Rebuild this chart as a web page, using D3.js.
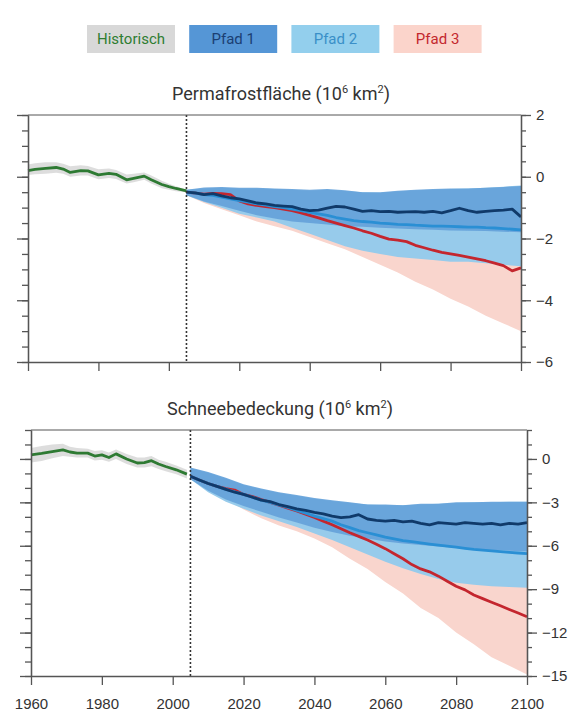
<!DOCTYPE html>
<html>
<head>
<meta charset="utf-8">
<script src="https://cdn.jsdelivr.net/npm/d3@7"></script>
<style>
  body { margin: 0; background: #fff; }
  svg { display: block; font-family: Roboto, "Open Sans", sans-serif; }
</style>
</head>
<body>
<div id="chart"></div>
<script>
// Legend entries
const legendNames = ["Historisch", "Pfad 1", "Pfad 2", "Pfad 3"];

// Historic series, Permafrost (top)
const histYearsTop = [1960, 1962, 1965, 1968, 1970, 1972, 1975, 1977, 1980, 1983, 1985, 1988, 1990, 1993, 1995, 1998, 2000, 2002, 2005];
const histTop   = [0.2, 0.24, 0.27, 0.3, 0.25, 0.14, 0.2, 0.19, 0.06, 0.11, 0.08, -0.1, -0.05, 0.02, -0.1, -0.25, -0.32, -0.38, -0.46];
const histTopHi = [0.4, 0.44, 0.47, 0.47, 0.42, 0.34, 0.37, 0.35, 0.24, 0.27, 0.22, 0.07, 0.1, 0.14, 0.04, -0.13, -0.23, -0.31, -0.42];
const histTopLo = [0.06, 0.08, 0.1, 0.13, 0.1, 0.0, 0.04, 0.04, -0.08, -0.04, -0.07, -0.22, -0.18, -0.1, -0.22, -0.37, -0.42, -0.47, -0.5];

// Historic series, snow cover (bottom)
const histYearsBot = [1960, 1963, 1966, 1969, 1971, 1973, 1976, 1978, 1980, 1982, 1984, 1987, 1990, 1992, 1994, 1996, 1998, 2001, 2004];
const histBot   = [0.28, 0.38, 0.5, 0.62, 0.48, 0.4, 0.4, 0.2, 0.28, 0.1, 0.35, 0.0, -0.28, -0.25, -0.12, -0.35, -0.52, -0.75, -1.05];
const histBotHi = [0.75, 0.9, 1.0, 1.05, 0.85, 0.75, 0.7, 0.55, 0.6, 0.45, 0.65, 0.35, 0.1, 0.1, 0.2, -0.05, -0.2, -0.45, -0.75];
const histBotLo = [-0.25, -0.15, 0.05, 0.2, 0.15, 0.1, 0.1, -0.1, -0.05, -0.2, 0.0, -0.35, -0.6, -0.6, -0.5, -0.7, -0.85, -1.05, -1.35];

// Projection years
const bandYears = [2005, 2010, 2015, 2020, 2025, 2030, 2035, 2040, 2045, 2050, 2055, 2060, 2065, 2070, 2075, 2080, 2085, 2090, 2095, 2100];
const lineYears = [2005, 2007.5, 2010, 2012.5, 2015, 2017.5, 2020, 2022.5, 2025, 2027.5, 2030, 2032.5, 2035, 2037.5, 2040, 2042.5, 2045, 2047.5, 2050, 2052.5,
                   2055, 2057.5, 2060, 2062.5, 2065, 2067.5, 2070, 2072.5, 2075, 2077.5, 2080, 2082.5, 2085, 2087.5, 2090, 2092.5, 2095, 2097.5, 2100];

// Permafrost projections
const p1Top = [-0.5, -0.52, -0.58, -0.55, -0.62, -0.68, -0.72, -0.78, -0.85, -0.88, -0.93, -0.95, -0.97, -1.05, -1.1, -1.08, -1.02, -0.96, -0.98, -1.05,
               -1.12, -1.1, -1.13, -1.12, -1.15, -1.14, -1.13, -1.15, -1.12, -1.17, -1.1, -1.02, -1.1, -1.15, -1.12, -1.1, -1.08, -1.05, -1.3];
const p2Top = [-0.5, -0.53, -0.58, -0.6, -0.66, -0.72, -0.77, -0.82, -0.88, -0.92, -0.97, -1.0, -1.05, -1.1, -1.15, -1.2, -1.25, -1.32, -1.37, -1.42,
               -1.45, -1.47, -1.5, -1.52, -1.54, -1.55, -1.57, -1.58, -1.6, -1.6, -1.61, -1.62, -1.63, -1.63, -1.65, -1.66, -1.68, -1.7, -1.72];
const p3Top = [-0.5, -0.53, -0.56, -0.54, -0.55, -0.58, -0.78, -0.88, -0.93, -0.97, -1.0, -1.05, -1.1, -1.17, -1.25, -1.33, -1.42, -1.5, -1.58, -1.66,
               -1.75, -1.83, -1.93, -2.02, -2.05, -2.1, -2.22, -2.3, -2.38, -2.45, -2.5, -2.55, -2.6, -2.66, -2.72, -2.8, -2.88, -3.05, -2.95];
const p1TopHi = [-0.42, -0.35, -0.33, -0.36, -0.36, -0.38, -0.4, -0.42, -0.4, -0.44, -0.5, -0.5, -0.45, -0.42, -0.4, -0.38, -0.38, -0.36, -0.33, -0.3];
const p1TopLo = [-0.6, -0.8, -0.95, -1.1, -1.25, -1.35, -1.45, -1.5, -1.55, -1.6, -1.62, -1.65, -1.68, -1.7, -1.72, -1.74, -1.75, -1.76, -1.78, -1.8];
const p2TopHi = [-0.42, -0.38, -0.36, -0.38, -0.38, -0.4, -0.42, -0.45, -0.42, -0.46, -0.5, -0.52, -0.48, -0.44, -0.42, -0.4, -0.38, -0.36, -0.32, -0.28];
const p2TopLo = [-0.6, -0.82, -1.0, -1.2, -1.32, -1.45, -1.65, -1.85, -2.05, -2.25, -2.4, -2.5, -2.6, -2.65, -2.7, -2.75, -2.75, -2.8, -2.85, -2.9];
const p3TopHi = [-0.45, -0.45, -0.45, -0.5, -0.55, -0.6, -0.65, -0.75, -0.85, -0.95, -1.05, -1.15, -1.25, -1.35, -1.45, -1.55, -1.65, -1.75, -1.85, -1.95];
const p3TopLo = [-0.6, -0.85, -1.05, -1.25, -1.45, -1.6, -1.75, -1.95, -2.15, -2.35, -2.6, -2.85, -3.1, -3.4, -3.65, -3.95, -4.2, -4.5, -4.75, -5.0];

// Snow cover projections
const p1Bot = [-1.2, -1.45, -1.7, -1.9, -2.1, -2.3, -2.45, -2.65, -2.85, -2.95, -3.15, -3.3, -3.45, -3.55, -3.7, -3.8, -3.95, -4.05, -4.0, -3.85,
               -4.15, -4.25, -4.3, -4.25, -4.35, -4.3, -4.45, -4.55, -4.4, -4.45, -4.5, -4.4, -4.45, -4.5, -4.45, -4.55, -4.45, -4.5, -4.4];
const p2Bot = [-1.2, -1.45, -1.7, -1.9, -2.1, -2.28, -2.45, -2.65, -2.85, -3.0, -3.18, -3.35, -3.55, -3.75, -3.95, -4.12, -4.3, -4.55, -4.75, -4.95,
               -5.1, -5.25, -5.4, -5.52, -5.65, -5.72, -5.8, -5.88, -5.95, -6.02, -6.1, -6.18, -6.25, -6.3, -6.35, -6.4, -6.45, -6.5, -6.55];
const p3Bot = [-1.2, -1.45, -1.7, -1.9, -2.05, -2.15, -2.45, -2.6, -2.8, -3.0, -3.2, -3.4, -3.6, -3.82, -4.05, -4.3, -4.55, -4.82, -5.1, -5.35,
               -5.6, -5.9, -6.2, -6.55, -6.9, -7.3, -7.6, -7.8, -8.1, -8.45, -8.8, -9.05, -9.4, -9.65, -9.9, -10.15, -10.4, -10.65, -10.9];
const p1BotHi = [-0.6, -0.9, -1.3, -1.75, -2.05, -2.3, -2.5, -2.7, -2.85, -3.0, -3.15, -3.15, -3.2, -3.1, -3.1, -3.0, -3.0, -2.95, -2.95, -2.95];
const p1BotLo = [-1.4, -2.2, -2.8, -3.25, -3.65, -4.05, -4.4, -4.75, -5.05, -5.3, -5.5, -5.7, -5.85, -5.95, -6.05, -6.15, -6.25, -6.3, -6.35, -6.4];
const p2BotHi = [-0.65, -0.95, -1.35, -1.8, -2.1, -2.35, -2.55, -2.75, -2.9, -3.05, -3.15, -3.2, -3.2, -3.15, -3.1, -3.05, -3.0, -3.0, -2.95, -2.95];
const p2BotLo = [-1.4, -2.3, -2.95, -3.45, -3.9, -4.3, -4.7, -5.15, -5.6, -6.1, -6.6, -7.1, -7.55, -7.95, -8.3, -8.55, -8.7, -8.8, -8.85, -8.9];
const p3BotHi = [-0.7, -1.0, -1.4, -1.85, -2.15, -2.45, -2.75, -3.05, -3.35, -3.65, -4.0, -4.35, -4.7, -5.1, -5.5, -5.9, -6.3, -6.7, -7.1, -7.5];
const p3BotLo = [-1.3, -2.0, -2.8, -3.5, -4.1, -4.6, -5.0, -5.5, -6.1, -6.9, -7.6, -8.5, -9.3, -10.3, -11.0, -12.0, -12.8, -13.7, -14.3, -14.9];

// Axis ticks
const yearTicks = [1960, 1980, 2000, 2020, 2040, 2060, 2080, 2100];
const topTicks = [2, 0, -2, -4, -6];
const botTicks = [0, -3, -6, -9, -12, -15];

// Colours
const legendFill = ["#d8d8d8", "#5596d6", "#93cfed", "#fbd4cb"];
const legendText = ["#2e7d32", "#1b3f73", "#3a8fc8", "#c3282e"];
const bandColor = {hist: "#d4d4d4", p1: "#64a1d9", p2: "#97cbeb", p3: "#f9d5cd"};
const lineColor = {hist: "#2e7a33", p1: "#103a6a", p2: "#2a8fd4", p3: "#c4262e"};

const W = 574, H = 713;
const svg = d3.select("#chart").append("svg").attr("width", W).attr("height", H);

// Legend
const legend = svg.append("g");
legendNames.forEach((name, i) => {
    const cx = 131 + i * 102.2;
    legend.append("rect")
        .attr("x", cx - 44).attr("y", 25).attr("width", 88).attr("height", 28)
        .attr("fill", legendFill[i]);
    legend.append("text")
        .attr("x", cx).attr("y", 39).attr("dy", "0.35em")
        .attr("text-anchor", "middle")
        .attr("fill", legendText[i])
        .style("font-size", "15px")
        .text(name);
});

function zip(years, a, b) {
    return years.map((yr, i) => ({year: yr, v: a[i], lo: b ? b[i] : null}));
}

function drawPanel(cfg) {
    const x = d3.scaleLinear().domain([1960, 2100]).range([cfg.x0, cfg.x1]);
    const y = d3.scaleLinear().domain(cfg.yDomain).range([cfg.yBottom, cfg.yTop]);
    const g = svg.append("g");

    // Title with superscripts
    const title = g.append("text")
        .attr("x", cfg.titleX).attr("y", cfg.titleY)
        .attr("text-anchor", "middle")
        .attr("fill", "#333")
        .style("font-size", "18px");
    title.append("tspan").text(cfg.title + " (10");
    title.append("tspan").attr("dy", -7).style("font-size", "11px").text("6");
    title.append("tspan").attr("dy", 7).text(" km");
    title.append("tspan").attr("dy", -7).style("font-size", "11px").text("2");
    title.append("tspan").attr("dy", 7).text(")");

    const area = d3.area()
        .x(d => x(d.year))
        .y0(d => y(d.lo))
        .y1(d => y(d.v));
    const line = d3.line()
        .x(d => x(d.year))
        .y(d => y(d.v));

    // Uncertainty bands
    g.append("path").datum(zip(cfg.histYears, cfg.histHi, cfg.histLo))
        .attr("d", area).attr("fill", bandColor.hist).attr("opacity", 0.8);
    g.append("path").datum(zip(bandYears, cfg.p3Hi, cfg.p3Lo))
        .attr("d", area).attr("fill", bandColor.p3);
    g.append("path").datum(zip(bandYears, cfg.p2Hi, cfg.p2Lo))
        .attr("d", area).attr("fill", bandColor.p2);
    g.append("path").datum(zip(bandYears, cfg.p1Hi, cfg.p1Lo))
        .attr("d", area).attr("fill", bandColor.p1).attr("opacity", 0.9);

    // Lines
    const series = [
        [cfg.histYears, cfg.hist, lineColor.hist],
        [lineYears, cfg.p3, lineColor.p3],
        [lineYears, cfg.p2, lineColor.p2],
        [lineYears, cfg.p1, lineColor.p1]
    ];
    series.forEach(([yrs, vals, col]) => {
        g.append("path").datum(zip(yrs, vals))
            .attr("d", line)
            .attr("fill", "none")
            .attr("stroke", col)
            .attr("stroke-width", 2.8)
            .attr("stroke-linejoin", "round");
    });

    // Dotted divider at 2005
    g.append("line")
        .attr("x1", x(2005)).attr("x2", x(2005))
        .attr("y1", cfg.yTop).attr("y2", cfg.yBottom)
        .attr("stroke", "#333").attr("stroke-width", 1.6)
        .attr("stroke-dasharray", "2,2");

    const axisColor = "#555";
    const minorTicks = d3.range(cfg.yDomain[0], cfg.yDomain[1] + 0.001, cfg.minorStep);

    // Left axis
    g.append("g").attr("transform", `translate(${cfg.x0},0)`)
        .call(d3.axisLeft(y).tickValues(minorTicks).tickSize(6).tickFormat("").tickSizeOuter(0));
    g.append("g").attr("transform", `translate(${cfg.x0},0)`)
        .call(d3.axisLeft(y).tickValues(cfg.majorTicks).tickSize(11).tickFormat("").tickSizeOuter(0));

    // Right axis
    g.append("g").attr("transform", `translate(${cfg.x1},0)`)
        .call(d3.axisRight(y).tickValues(minorTicks).tickSize(5).tickFormat("").tickSizeOuter(0));
    g.append("g").attr("transform", `translate(${cfg.x1},0)`)
        .call(d3.axisRight(y).tickValues(cfg.majorTicks).tickSize(10).tickPadding(5).tickSizeOuter(0))
        .selectAll("text").style("font-size", "15px").attr("fill", "#333");

    // Bottom axis
    const xAxis = g.append("g").attr("transform", `translate(0,${cfg.yBottom})`)
        .call(d3.axisBottom(x).tickValues(yearTicks).tickSize(9).tickPadding(13)
            .tickFormat(cfg.showYears ? d3.format("d") : "").tickSizeOuter(0));
    xAxis.selectAll("text").style("font-size", "15px").attr("fill", "#333");

    // Top frame line
    g.append("line")
        .attr("x1", cfg.x0).attr("x2", cfg.x1)
        .attr("y1", cfg.yTop).attr("y2", cfg.yTop)
        .attr("stroke", axisColor);

    g.selectAll(".domain").attr("stroke", axisColor).attr("stroke-width", 1.3);
    g.selectAll(".tick line").attr("stroke", axisColor).attr("stroke-width", 1.3);
}

drawPanel({
    title: "Permafrostfläche",
    titleX: 281, titleY: 100,
    x0: 28, x1: 521, yTop: 115, yBottom: 362,
    yDomain: [-6, 2], minorStep: 0.5, majorTicks: topTicks,
    histYears: histYearsTop, hist: histTop, histHi: histTopHi, histLo: histTopLo,
    p1: p1Top, p2: p2Top, p3: p3Top,
    p1Hi: p1TopHi, p1Lo: p1TopLo, p2Hi: p2TopHi, p2Lo: p2TopLo, p3Hi: p3TopHi, p3Lo: p3TopLo,
    showYears: false
});

drawPanel({
    title: "Schneebedeckung",
    titleX: 280, titleY: 415,
    x0: 31, x1: 527, yTop: 430, yBottom: 676,
    yDomain: [-15, 2], minorStep: 1, majorTicks: botTicks,
    histYears: histYearsBot, hist: histBot, histHi: histBotHi, histLo: histBotLo,
    p1: p1Bot, p2: p2Bot, p3: p3Bot,
    p1Hi: p1BotHi, p1Lo: p1BotLo, p2Hi: p2BotHi, p2Lo: p2BotLo, p3Hi: p3BotHi, p3Lo: p3BotLo,
    showYears: true
});
</script>
</body>
</html>
